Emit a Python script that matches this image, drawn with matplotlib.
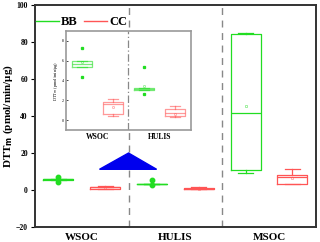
import numpy as np
import matplotlib
matplotlib.use('Agg')
import matplotlib.pyplot as plt
from matplotlib.patches import Polygon
from matplotlib.lines import Line2D

plt.rcParams['font.family'] = ['Liberation Serif', 'DejaVu Serif']

categories = ['WSOC', 'HULIS', 'MSOC']

# box stats (q1, median, q3, mean, whisker low, whisker high, extra points)
bb_q1 = [5.4, 3.0, 10.8]
bb_med = [5.7, 3.1, 41.6]
bb_q3 = [6.0, 3.2, 84.3]
bb_mean = [5.9, 3.4, 45.4]
bb_lo = [5.4, 3.0, 9.3]
bb_hi = [6.0, 3.2, 85.0]
bb_pts = [[7.3, 4.4], [5.4, 2.6], []]

cc_q1 = [0.6, 0.37, 3.4]
cc_med = [1.6, 0.75, 7.2]
cc_q3 = [1.8, 1.1, 8.1]
cc_mean = [1.3, 0.6, 6.3]
cc_lo = [0.43, 0.35, 3.4]
cc_hi = [2.1, 1.47, 11.2]
cc_pts = [[], [], []]

# blue arrow head between main plot and inset
tri_x = [1.19, 1.80, 1.5]
tri_y = [11.2, 11.2, 20.0]

green = '#22dd22'
red = '#ff5555'


def make_stats(q1, med, q3, mean, lo, hi, pts, idx):
    out = []
    for i in idx:
        out.append(dict(q1=q1[i], med=med[i], q3=q3[i], mean=mean[i],
                        whislo=lo[i], whishi=hi[i], fliers=pts[i]))
    return out


def draw(ax, idx, alpha, ms_pt, ms_mean, pt_marker):
    pos = np.arange(1, len(idx) + 1)
    for stats, off, col in [(make_stats(bb_q1, bb_med, bb_q3, bb_mean, bb_lo, bb_hi, bb_pts, idx), -0.25, green),
                            (make_stats(cc_q1, cc_med, cc_q3, cc_mean, cc_lo, cc_hi, cc_pts, idx), 0.25, red)]:
        ax.bxp(stats, positions=pos + off, widths=0.32, capwidths=0.16, showmeans=True,
               boxprops=dict(color=col, lw=0.9, alpha=alpha),
               medianprops=dict(color=col, lw=0.9, alpha=alpha),
               whiskerprops=dict(color=col, lw=0.9, alpha=alpha),
               capprops=dict(color=col, lw=0.9, alpha=alpha),
               meanprops=dict(marker='s', mfc='none', mec=col, mew=0.6, ms=ms_mean, alpha=0.5),
               flierprops=dict(marker=pt_marker, mfc=col, mec=col, ms=ms_pt))


fig = plt.figure(figsize=(3.2, 2.42), dpi=100)
ax = fig.add_axes([0.109, 0.062, 0.878, 0.917])

draw(ax, [0, 1, 2], 1.0, 3.2, 1.8, 'o')
for xv in [1.5, 2.5]:
    ax.axvline(xv, color='#888888', ls=(0, (5, 4)), lw=1.0, zorder=0)

ax.add_patch(Polygon(np.column_stack([tri_x, tri_y]), closed=True, color='#0000ee', zorder=3))

ax.set_xlim(0.5, 3.5)
ax.set_ylim(-20, 100)
ax.set_yticks(np.arange(-20, 101, 20))
ax.set_xticks([1, 2, 3])
ax.set_xticklabels(categories, fontsize=8, fontweight='bold')
ax.tick_params(axis='x', length=0, pad=4)
ax.tick_params(axis='y', labelsize=5.5, length=3, width=0.8, pad=2)
for lab in ax.get_yticklabels():
    lab.set_fontweight('bold')
for s in ax.spines.values():
    s.set_linewidth(1.4)
    s.set_color('#333333')
ax.set_ylabel('DTT$_{\\mathbf{m}}$ (pmol/min/μg)', fontsize=8, fontweight='bold', labelpad=1)

handles = [Line2D([], [], color=green, lw=1.0), Line2D([], [], color=red, lw=1.0)]
ax.legend(handles, ['BB', 'CC'], loc='upper left', bbox_to_anchor=(-0.035, 1.0), ncol=2,
          frameon=False, prop=dict(size=9, weight='bold'), handlelength=1.85,
          handletextpad=0.15, columnspacing=0.5)

# inset
axi = fig.add_axes([0.206, 0.463, 0.391, 0.409])
draw(axi, [0, 1], 0.6, 1.4, 1.3, 's')
axi.axvline(1.5, color='#888888', ls=(0, (6, 2, 1, 2)), lw=0.9, zorder=0)
axi.set_xlim(0.5, 2.5)
axi.set_ylim(-1, 9)
axi.set_yticks([0, 2, 4, 6, 8])
axi.set_xticks([1, 2])
axi.set_xticklabels(categories[:2], fontsize=5.5, fontweight='bold')
axi.tick_params(axis='x', length=0, pad=2)
axi.tick_params(axis='y', direction='in', labelsize=3, length=1.5, width=0.5, pad=1.5)
for s in axi.spines.values():
    s.set_linewidth(1.2)
    s.set_color('#999999')
axi.set_ylabel('DTT$_{m}$ (pmol/min/μg)', fontsize=3.2, labelpad=1.5)

fig.savefig('out.png', dpi=100)
